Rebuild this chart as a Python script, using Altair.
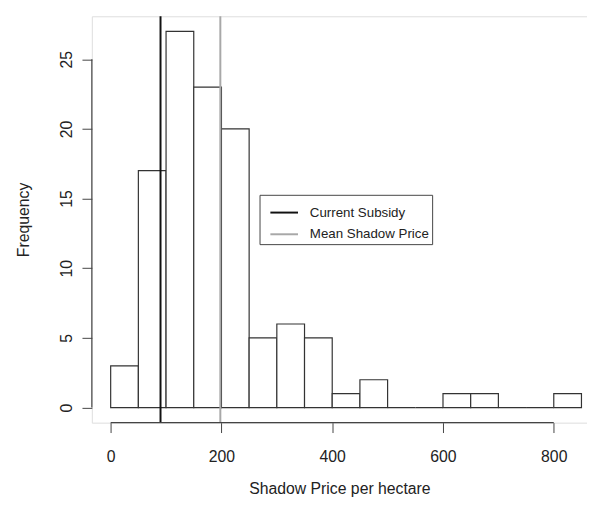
import altair as alt
import pandas as pd

bin_start = [0, 50, 100, 150, 200, 250, 300, 350, 400, 450, 500, 550, 600, 650, 700, 750, 800]
bin_width = 50
counts = [3, 17, 27, 23, 20, 5, 6, 5, 1, 2, 0, 0, 1, 1, 0, 0, 1]

line_labels = ["Current Subsidy", "Mean Shadow Price"]
line_values = [90, 198]
line_colors = ["#111111", "#a8a8a8"]

x_ticks = [0, 200, 400, 600, 800]
y_ticks = [0, 5, 10, 15, 20, 25]

W, H = 502, 412
FONT = "Liberation Sans"

bars_df = pd.DataFrame({
    "start": bin_start,
    "end": [s + bin_width for s in bin_start],
    "count": counts,
    "zero": [0] * len(counts),
})
lines_df = pd.DataFrame({"name": line_labels, "value": line_values})
xspine_df = pd.DataFrame({"a": [x_ticks[0]], "b": [x_ticks[-1]]})
yspine_df = pd.DataFrame({"a": [y_ticks[0]], "b": [y_ticks[-1]]})

xscale = alt.Scale(domain=[-34, 860], nice=False, zero=False)
yscale = alt.Scale(domain=[-1.08, 28.08], nice=False, zero=False)

xaxis = alt.Axis(values=x_ticks, domain=False, grid=False, tickSize=10, tickColor="#444",
                 labelFontSize=16, labelFont=FONT, labelColor="#222", labelPadding=16,
                 title="Shadow Price per hectare", titleFont=FONT, titleFontSize=16,
                 titleFontWeight="normal", titleColor="#222", titlePadding=17)
yaxis = alt.Axis(values=y_ticks, domain=False, grid=False, tickSize=10, tickColor="#444",
                 labelFontSize=16, labelFont=FONT, labelColor="#222", labelAngle=270,
                 labelAlign="center", labelBaseline="bottom", labelPadding=8,
                 title="Frequency", titleFont=FONT, titleFontSize=16,
                 titleFontWeight="normal", titleColor="#222", titlePadding=27)

bars = alt.Chart(bars_df).mark_bar(fill="white", stroke="#333", strokeWidth=1.2).encode(
    x=alt.X("start:Q", scale=xscale, axis=xaxis),
    x2="end:Q",
    y=alt.Y("count:Q", scale=yscale, axis=yaxis),
    y2="zero:Q",
)

vlines = alt.Chart(lines_df).mark_rule(strokeWidth=2).encode(
    x=alt.X("value:Q", scale=xscale),
    y=alt.value(0),
    y2=alt.value(H),
    color=alt.Color("name:N", scale=alt.Scale(domain=line_labels, range=line_colors),
                    legend=alt.Legend(title=None, orient="none", legendX=170, legendY=181,
                                      symbolType="stroke", symbolStrokeWidth=2, symbolSize=784,
                                      symbolOffset=7,
                                      labelFont=FONT, labelFontSize=13.5, labelColor="#222",
                                      strokeColor="#444", padding=3, rowPadding=-12,
                                      fillColor="white", labelOffset=11)),
)

xspine = alt.Chart(xspine_df).mark_rule(color="#444", strokeWidth=1.2).encode(
    x=alt.X("a:Q", scale=xscale), x2="b:Q", y=alt.value(H))
yspine = alt.Chart(yspine_df).mark_rule(color="#444", strokeWidth=1.2).encode(
    y=alt.Y("a:Q", scale=yscale), y2="b:Q", x=alt.value(0))

chart = alt.layer(bars, vlines, xspine, yspine).properties(
    width=W, height=H,
    autosize=alt.AutoSizeParams(type="none"),
    padding={"left": 85, "top": 5, "right": 0, "bottom": 75},
).configure_view(stroke=None).configure(background="white")

chart.save("out.html", embed_options={"renderer": "svg", "actions": False})
